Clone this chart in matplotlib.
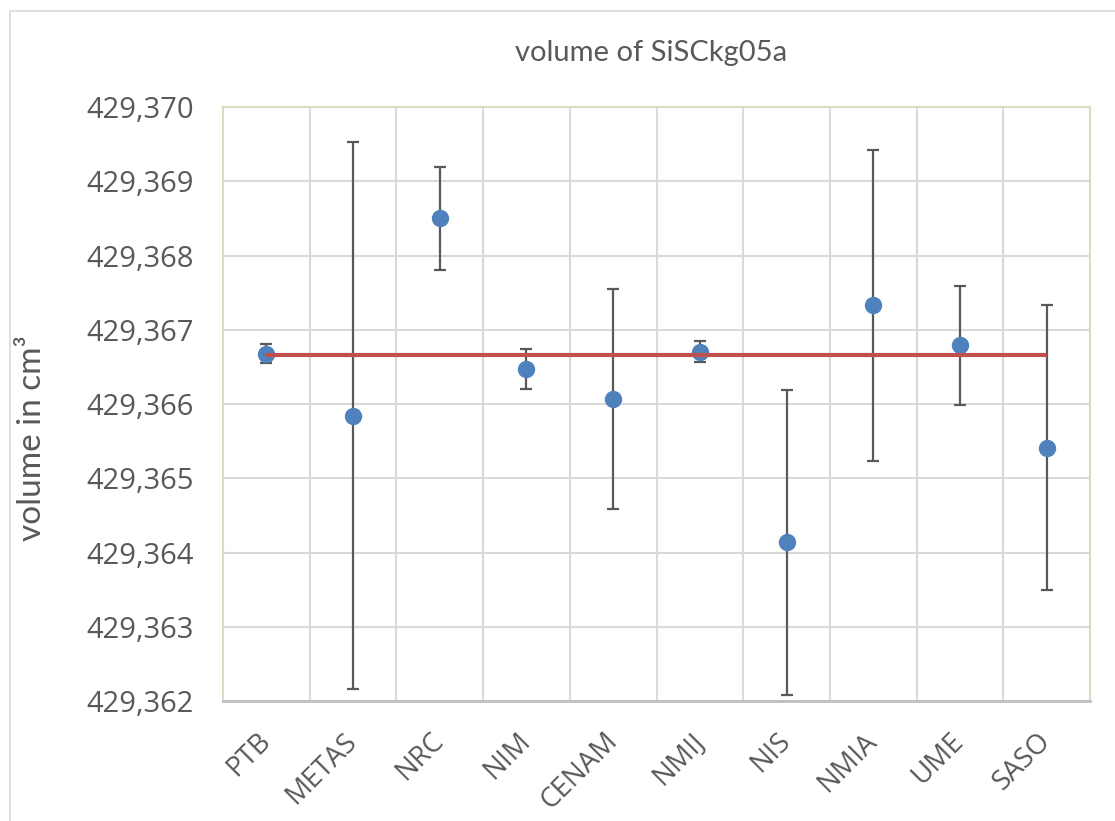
import matplotlib
matplotlib.use("Agg")
import matplotlib.pyplot as plt
from matplotlib.patches import Rectangle
from matplotlib.ticker import FuncFormatter, MultipleLocator

# data
institutes = ["PTB", "METAS", "NRC", "NIM", "CENAM", "NMIJ", "NIS", "NMIA", "UME", "SASO"]
volume = [429.366680, 429.365842, 429.368500, 429.366469, 429.366063,
          429.366703, 429.364135, 429.367327, 429.366793, 429.365413]
uncertainty = [0.000128, 0.003680, 0.000690, 0.000270, 0.001480,
               0.000140, 0.002050, 0.002090, 0.000800, 0.001920]
reference_value = 429.366664
y_ticks = [429.362, 429.363, 429.364, 429.365, 429.366, 429.367, 429.368, 429.369, 429.370]

text_color = "#595959"
grid_color = "#D9D9D9"

fig = plt.figure(figsize=(11.15, 8.21), dpi=100)
ax = fig.add_axes([223 / 1115, 1 - 701 / 821, 867 / 1115, 594 / 821])

x = list(range(len(institutes)))
ax.errorbar(x, volume, yerr=uncertainty, fmt="o", color="#4F81BD", markersize=11.5,
            ecolor=text_color, elinewidth=1.6, capsize=4.5, capthick=1.6, zorder=3)
ax.plot([x[0], x[-1]], [reference_value, reference_value], color="#C0504D",
        linewidth=3, solid_capstyle="butt", zorder=4)

ax.set_xlim(-0.5, len(institutes) - 0.5)
ax.set_ylim(y_ticks[0], y_ticks[-1])
ax.set_yticks(y_ticks)
ax.yaxis.set_major_formatter(FuncFormatter(lambda v, pos: f"{v:.3f}".replace(".", ",")))
ax.set_xticks(x)
ax.set_xticklabels(institutes, rotation=45, ha="right", va="center",
                   rotation_mode="anchor", fontsize=20, color=text_color,
                   family="Open Sans")
for lab in ax.get_yticklabels():
    lab.set_fontsize(21)
    lab.set_color(text_color)
    lab.set_family("Open Sans")
ax.tick_params(axis="y", length=0, pad=21)
ax.tick_params(axis="x", length=0, pad=26)

# vertical gridlines sit between categories
ax.xaxis.set_minor_locator(MultipleLocator(1, offset=0.5))
ax.tick_params(axis="x", which="minor", length=0)
ax.grid(axis="y", which="major", color=grid_color, linewidth=1.5, zorder=0)
ax.grid(axis="x", which="minor", color=grid_color, linewidth=1.5, zorder=0)
ax.set_axisbelow(True)

for side in ["top", "right", "left"]:
    ax.spines[side].set_color("#DDD9C3")
    ax.spines[side].set_linewidth(1.5)
ax.spines["bottom"].set_color("#BFBFBF")
ax.spines["bottom"].set_linewidth(2)

ax.set_ylabel("volume in cm³", fontsize=24, color=text_color, family="Lato")
ax.yaxis.set_label_coords((47 - 223) / 867, (701 - 438) / 594)

fig.text(651 / 1115, 1 - 53 / 821, "volume of SiSCkg05a", ha="center", va="center",
         fontsize=21, color=text_color, family="Lato")

# outer chart border
fig.patches.append(Rectangle((10 / 1115, -0.1), 1.2, 1.1 - 11 / 821, transform=fig.transFigure,
                             fill=False, edgecolor="#D9D9D9", linewidth=1.2))

fig.savefig("out.png", dpi=100)
